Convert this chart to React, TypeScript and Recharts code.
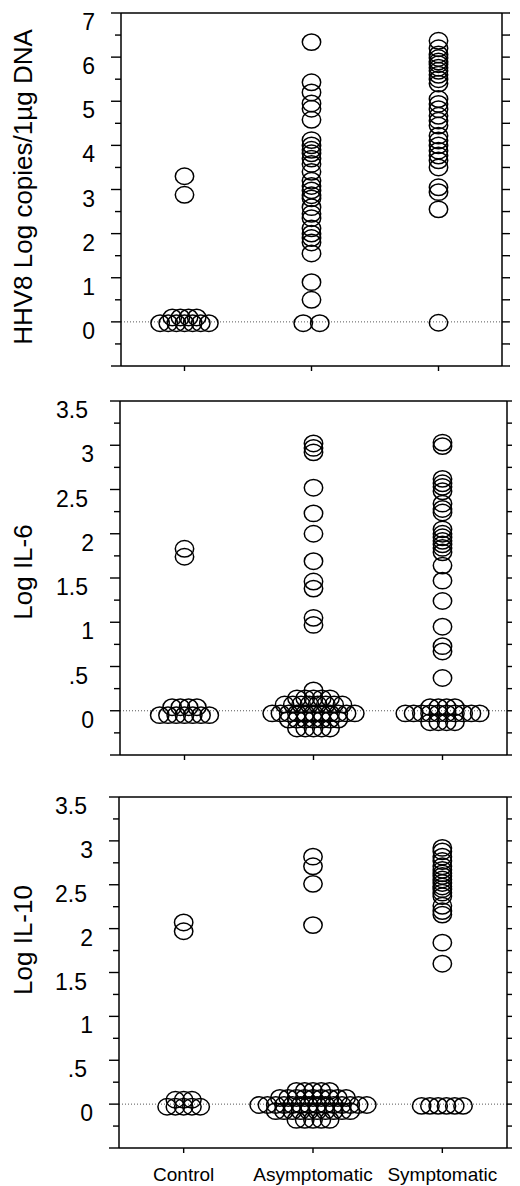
import { ScatterChart, Scatter, XAxis, YAxis, ReferenceLine } from 'recharts';

const categories = ['Control', 'Asymptomatic', 'Symptomatic'];
const categoryTicks = [0.5, 1.5, 2.5];

// HHV8 viral load, log copies / 1µg DNA
const hhv8Control = [3.3, 2.88];
const hhv8ControlZeros = [[0.1, 4], [-0.03, 7]];
const hhv8Asym = [6.34, 5.43, 5.2, 4.95, 4.83, 4.58, 4.12, 4.0, 3.9, 3.82, 3.7, 3.58, 3.4, 3.2, 3.08, 2.98, 2.87, 2.8, 2.6, 2.45, 2.35, 2.12, 2.0, 1.9, 1.8, 1.55, 0.9, 0.5];
const hhv8AsymZeros = [[-0.03, 2]];
const hhv8Symp = [6.37, 6.2, 6.06, 5.98, 5.9, 5.84, 5.76, 5.69, 5.6, 5.5, 5.4, 5.05, 4.94, 4.82, 4.67, 4.56, 4.45, 4.22, 4.11, 4.0, 3.88, 3.77, 3.66, 3.5, 3.05, 2.94, 2.55];
const hhv8SympZeros = [[-0.02, 1]];

// Log IL-6
const il6Control = [1.83, 1.74];
const il6ControlZeros = [[0.04, 4], [-0.05, 7]];
const il6Asym = [3.02, 2.97, 2.92, 2.52, 2.23, 2.0, 1.69, 1.46, 1.38, 1.05, 0.97];
const il6AsymZeros = [[0.23, 1], [0.14, 5], [0.07, 8], [-0.03, 11], [-0.1, 7], [-0.2, 5]];
const il6Symp = [3.03, 2.99, 2.62, 2.57, 2.53, 2.48, 2.34, 2.28, 2.24, 2.05, 2.0, 1.96, 1.92, 1.88, 1.84, 1.79, 1.64, 1.47, 1.24, 0.95, 0.73, 0.67, 0.37];
const il6SympZeros = [[0.04, 4], [-0.03, 10], [-0.13, 4]];

// Log IL-10
const il10Control = [2.07, 1.97];
const il10ControlZeros = [[0.05, 3], [-0.03, 5]];
const il10Asym = [2.82, 2.71, 2.51, 2.04];
const il10AsymZeros = [[0.15, 5], [0.07, 9], [-0.01, 14], [-0.08, 10], [-0.18, 5]];
const il10Symp = [2.92, 2.88, 2.82, 2.77, 2.71, 2.67, 2.63, 2.6, 2.56, 2.52, 2.48, 2.45, 2.41, 2.37, 2.26, 2.2, 2.16, 1.84, 1.6];
const il10SympZeros = [[-0.02, 6]];

// y axis ticks
const hhv8Ticks = [-1, -0.5, 0, 0.5, 1, 1.5, 2, 2.5, 3, 3.5, 4, 4.5, 5, 5.5, 6, 6.5, 7];
const hhv8Major = [-1, 0, 1, 2, 3, 4, 5, 6, 7];
const hhv8Labels = ['', '0', '1', '2', '3', '4', '5', '6', '7'];
const ilTicks = [-0.5, -0.25, 0, 0.25, 0.5, 0.75, 1, 1.25, 1.5, 1.75, 2, 2.25, 2.5, 2.75, 3, 3.25, 3.5];
const ilMajor = [-0.5, 0, 0.5, 1, 1.5, 2, 2.5, 3, 3.5];
const ilLabels = ['', '0', '.5', '1', '1.5', '2', '2.5', '3', '3.5'];

const FONT = '"Liberation Sans", Arial, Helvetica, sans-serif';
const LINE = { stroke: '#000', strokeWidth: 1.5 };

// points with equal values are dodged sideways around the category centre
function groupPoints(cat: number, values: number[], zeroRows: number[][]) {
  const cx = cat + 0.5;
  const pts = values.map(v => ({ x: cx, y: v }));
  zeroRows.forEach(([v, n]) => {
    const gap = n === 2 ? 0.13 : 0.064;
    for (let i = 0; i < n; i++) pts.push({ x: cx + (i - (n - 1) / 2) * gap, y: v });
  });
  return pts;
}

const Ring = (props: any) => (
  <ellipse cx={props.cx} cy={props.cy} rx={9.2} ry={8.2} fill="none" stroke="#000" strokeWidth={1.5} />
);

function LeftTick(props: any) {
  const { x, y, payload, major, labels } = props;
  const i = major.indexOf(payload.value);
  const len = i >= 0 ? 10 : 6;
  const label = i >= 0 ? labels[i] : '';
  // decimal labels sit a little further from the axis than the integers
  const gap = label.includes('.') ? 32 : 26;
  return (
    <g>
      <line x1={x - len} x2={x} y1={y} y2={y} stroke="#000" strokeWidth={1.4} />
      {label ? (
        <text x={x - gap} y={y + 17} textAnchor="end" fontSize={23} fontFamily={FONT} fill="#000">
          {label}
        </text>
      ) : null}
    </g>
  );
}

function RightTick(props: any) {
  const { x, y } = props;
  return <line x1={x} x2={x + 8} y1={y} y2={y} stroke="#000" strokeWidth={1.4} />;
}

function TopTick(props: any) {
  const { x, y } = props;
  return <line x1={x} x2={x} y1={y - 5} y2={y} stroke="#000" strokeWidth={1.4} />;
}

function BottomTick(props: any) {
  const { x, y, payload, showLabel } = props;
  const idx = categoryTicks.indexOf(payload.value);
  return (
    <g>
      <line x1={x} x2={x} y1={y} y2={y + 5} stroke="#000" strokeWidth={1.4} />
      {showLabel ? (
        <text x={x} y={y + 33} textAnchor="middle" fontSize={19} fontFamily={FONT} fill="#000">
          {categories[idx]}
        </text>
      ) : null}
    </g>
  );
}

function YTitle(props: any) {
  const { title, cy } = props;
  return (
    <text x={24} y={cy} transform={`rotate(-90 24 ${cy})`} textAnchor="middle" fontSize={26} fontFamily={FONT} fill="#000">
      {title}
    </text>
  );
}

interface PanelProps {
  title: string;
  titleY: number;
  height: number;
  marginTop: number;
  topHeight: number;
  bottomHeight: number;
  leftWidth: number;
  rightMargin: number;
  domain: [number, number];
  ticks: number[];
  major: number[];
  labels: string[];
  groups: { x: number; y: number }[][];
  topTicks?: boolean;
  showLabels?: boolean;
}

function Panel(p: PanelProps) {
  return (
    <ScatterChart width={512} height={p.height} margin={{ top: p.marginTop, right: p.rightMargin, bottom: 0, left: 0 }}>
      <XAxis
        xAxisId="t"
        orientation="top"
        type="number"
        dataKey="x"
        domain={[0, 3]}
        ticks={categoryTicks}
        interval={0}
        height={p.topHeight}
        axisLine={LINE}
        tickLine={false}
        tickSize={0}
        tickMargin={0}
        tick={p.topTicks ? (props: any) => <TopTick {...props} /> : false}
      />
      <XAxis
        xAxisId="b"
        type="number"
        dataKey="x"
        domain={[0, 3]}
        ticks={categoryTicks}
        interval={0}
        height={p.bottomHeight}
        axisLine={LINE}
        tickLine={false}
        tickSize={0}
        tickMargin={0}
        tick={(props: any) => <BottomTick {...props} showLabel={p.showLabels} />}
      />
      <YAxis
        yAxisId="l"
        type="number"
        dataKey="y"
        domain={p.domain}
        allowDataOverflow
        ticks={p.ticks}
        interval={0}
        width={p.leftWidth}
        axisLine={LINE}
        tickLine={false}
        tickSize={0}
        tickMargin={0}
        tick={(props: any) => <LeftTick {...props} major={p.major} labels={p.labels} />}
        label={<YTitle title={p.title} cy={p.titleY} />}
      />
      <YAxis
        yAxisId="r"
        orientation="right"
        type="number"
        dataKey="y"
        domain={p.domain}
        allowDataOverflow
        ticks={p.ticks}
        interval={0}
        width={10}
        axisLine={LINE}
        tickLine={false}
        tickSize={0}
        tickMargin={0}
        tick={(props: any) => <RightTick {...props} />}
      />
      <ReferenceLine xAxisId="b" yAxisId="l" y={0} stroke="#444" strokeWidth={0.9} strokeDasharray="1 2" />
      {p.groups.map((pts, i) => (
        <Scatter key={i} xAxisId="b" yAxisId="l" data={pts} shape={Ring} isAnimationActive={false} />
      ))}
    </ScatterChart>
  );
}

export default function App() {
  return (
    <div style={{ width: 512, background: '#fff' }}>
      <Panel
        title="HHV8 Log copies/1µg DNA"
        titleY={179}
        height={370}
        marginTop={0}
        topHeight={5}
        bottomHeight={12}
        leftWidth={113}
        rightMargin={8}
        domain={[-1, 7]}
        ticks={hhv8Ticks}
        major={hhv8Major}
        labels={hhv8Labels}
        topTicks
        groups={[
          groupPoints(0, hhv8Control, hhv8ControlZeros),
          groupPoints(1, hhv8Asym, hhv8AsymZeros),
          groupPoints(2, hhv8Symp, hhv8SympZeros),
        ]}
      />
      <Panel
        title="Log IL-6"
        titleY={194}
        height={389}
        marginTop={22}
        topHeight={1}
        bottomHeight={12}
        leftWidth={112}
        rightMargin={3}
        domain={[-0.5, 3.5]}
        ticks={ilTicks}
        major={ilMajor}
        labels={ilLabels}
        groups={[
          groupPoints(0, il6Control, il6ControlZeros),
          groupPoints(1, il6Asym, il6AsymZeros),
          groupPoints(2, il6Symp, il6SympZeros),
        ]}
      />
      <Panel
        title="Log IL-10"
        titleY={173}
        height={423}
        marginTop={29}
        topHeight={1}
        bottomHeight={42}
        leftWidth={111}
        rightMargin={3}
        domain={[-0.5, 3.5]}
        ticks={ilTicks}
        major={ilMajor}
        labels={ilLabels}
        showLabels
        groups={[
          groupPoints(0, il10Control, il10ControlZeros),
          groupPoints(1, il10Asym, il10AsymZeros),
          groupPoints(2, il10Symp, il10SympZeros),
        ]}
      />
    </div>
  );
}
